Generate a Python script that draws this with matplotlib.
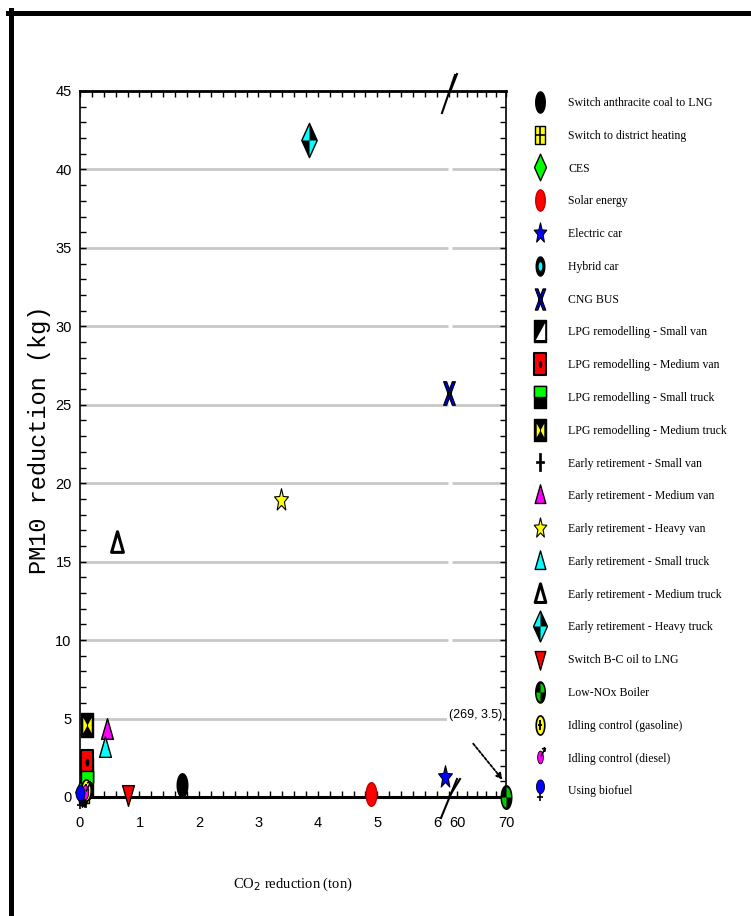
import numpy as np
import matplotlib
matplotlib.use('Agg')
import matplotlib.pyplot as plt
from matplotlib.path import Path
from matplotlib.lines import Line2D
from matplotlib.ticker import FixedLocator, FixedFormatter
from matplotlib.legend_handler import HandlerTuple

# ------------------------------------------------------------------ data
series_labels = [
    "Switch anthracite coal to LNG",
    "Switch to district heating",
    "CES",
    "Solar energy",
    "Electric car",
    "Hybrid car",
    "CNG BUS",
    "LPG remodelling - Small van",
    "LPG remodelling - Medium van",
    "LPG remodelling - Small truck",
    "LPG remodelling - Medium truck",
    "Early retirement - Small van",
    "Early retirement - Medium van",
    "Early retirement - Heavy van",
    "Early retirement - Small truck",
    "Early retirement - Medium truck",
    "Early retirement - Heavy truck",
    "Switch B-C oil to LNG",
    "Low-NOx Boiler",
    "Idling control (gasoline)",
    "Idling control (diesel)",
    "Using biofuel",
]
co2_reduction = [1.72, 0.06, 0.03, 4.90, 6.13, 0.05, 6.20, 0.12, 0.12, 0.12,
                 0.12, 0.08, 0.45, 3.38, 0.42, 0.62, 3.85, 0.81, 70.0, 0.10,
                 0.08, 0.00]
pm10_reduction = [0.77, 0.20, 0.30, 0.20, 1.30, 0.10, 25.75, 1.70, 2.20, 0.90,
                  4.60, 0.00, 4.30, 18.90, 3.10, 16.20, 41.90, 0.20, 0.00, 0.45,
                  0.30, 0.00]
x_major_ticks = [0, 1, 2, 3, 4, 5, 6, 60, 70]
x_tick_labels = ["0", "1", "2", "3", "4", "5", "6", "60", "70"]
y_major_ticks = [0, 5, 10, 15, 20, 25, 30, 35, 40, 45]
y_tick_labels = ["0", "5", "10", "15", "20", "25", "30", "35", "40", "45"]
y_grid_values = [5, 10, 15, 20, 25, 30, 35, 40]
annotation_text = "(269, 3.5)"
annotation_pos = (63.7, 5.23)
arrow_tail = (63.3, 3.4)
arrow_head = (69.3, 1.1)
x_label = "CO$_2$ reduction (ton)"
y_label = "PM10 reduction (kg)"

# ------------------------------------------------------------------ broken x scale
B1, B2, R = 6.24, 58.8, 4.9 / 59.5


def fwd(x):
    x = np.asarray(x, float)
    return np.where(x <= B1, x, np.where(x >= B2, B1 + (x - B2) * R, B1))


def inv(u):
    u = np.asarray(u, float)
    return np.where(u <= B1, u, B2 + (u - B1) / R)


# ------------------------------------------------------------------ marker shapes
def poly(pts):
    pts = [tuple(p) for p in pts]
    return Path(pts + [pts[0]], closed=True)


def compound(*paths):
    return Path.make_compound_path(*paths)


def segs(pairs):
    verts, codes = [], []
    for a, b in pairs:
        verts += [a, b]
        codes += [Path.MOVETO, Path.LINETO]
    return Path(verts, codes)


_t = np.linspace(0, 2 * np.pi, 33)[:-1]


def ellipse(cx=0.0, cy=0.0, rx=0.45, ry=1.0):
    return poly(zip(cx + rx * np.cos(_t), cy + ry * np.sin(_t)))


def wedge(a0, a1, rx=0.45):
    a = np.linspace(a0, a1, 9)
    return poly([(0, 0)] + list(zip(rx * np.cos(a), np.sin(a))))


def star(sx=0.62, inner=0.42):
    pts = []
    for k in range(10):
        ang = np.pi / 2 + k * np.pi / 5
        r = 1.0 if k % 2 == 0 else inner
        pts.append((sx * r * np.cos(ang), r * np.sin(ang)))
    return poly(pts)


ELL = ellipse()
RECT = poly([(-0.55, -1), (0.55, -1), (0.55, 1), (-0.55, 1)])
DIA = poly([(0, 1), (0.45, 0), (0, -1), (-0.45, 0)])
TRI_UP = poly([(0, 1), (0.5, -0.75), (-0.5, -0.75)])
TRI_DN = poly([(0, -1), (0.5, 0.75), (-0.5, 0.75)])
STAR = star()
XSHAPE = compound(poly([(-0.5, 1), (-0.24, 1), (0.5, -1), (0.24, -1)]),
                  poly([(0.24, 1), (0.5, 1), (-0.24, -1), (-0.5, -1)]))
PLUS = poly([(-0.12, 1), (0.12, 1), (0.12, 0.15), (0.45, 0.15), (0.45, -0.15),
             (0.12, -0.15), (0.12, -1), (-0.12, -1), (-0.12, -0.15),
             (-0.45, -0.15), (-0.45, 0.15), (-0.12, 0.15)])
GRID_LINES = segs([((0, -1), (0, 1)), ((-0.55, 0), (0.55, 0))])
LOW_RIGHT = poly([(0.55, -1), (0.55, 1), (-0.55, -1)])
TOP_HALF = poly([(-0.55, 0), (0.55, 0), (0.55, 1), (-0.55, 1)])
BOWTIE = compound(poly([(-0.55, 1), (0, 0), (-0.55, -1)]),
                  poly([(0.55, 1), (0, 0), (0.55, -1)]))
DIA_CYAN = compound(poly([(0, 1), (-0.45, 0), (0, 0)]),
                    poly([(0, -1), (0.45, 0), (0, 0)]))
NOX_GREEN = compound(wedge(0, np.pi / 2), wedge(np.pi, 1.5 * np.pi))
ARROW = segs([((0.05, 0.1), (0.5, 1.0)), ((0.5, 1.0), (0.15, 0.9)),
              ((0.5, 1.0), (0.45, 0.6))])
BIO_HEAD = ellipse(0, 0.35, 0.38, 0.65)
BIO_STEM = segs([((0, -0.3), (0, -1)), ((-0.25, -0.65), (0.25, -0.65))])

MS = 17
# label -> list of layers (path, face, edge, size factor, edge width)
marker_styles = {
    "Switch anthracite coal to LNG": [(ELL, "black", "black", 1.0, 1)],
    "Switch to district heating": [(RECT, "#ffff00", "black", 0.8, 1),
                                   (GRID_LINES, "none", "black", 0.8, 1.2)],
    "CES": [(DIA, "#00ff00", "black", 1.25, 1)],
    "Solar energy": [(ELL, "#ff0000", "#c00000", 1.0, 1)],
    "Electric car": [(STAR, "#0000ff", "black", 1.0, 0.8)],
    "Hybrid car": [(ELL, "black", "black", 0.9, 1),
                   (ellipse(), "#00ffff", "none", 0.4, 0)],
    "CNG BUS": [(XSHAPE, "#0000cc", "black", 1.0, 0.8)],
    "LPG remodelling - Small van": [(RECT, "black", "black", 1.0, 1),
                                    (LOW_RIGHT, "white", "none", 0.8, 0)],
    "LPG remodelling - Medium van": [(RECT, "#ff0000", "black", 1.0, 1.5),
                                     (ellipse(), "black", "none", 0.35, 0)],
    "LPG remodelling - Small truck": [(RECT, "black", "black", 1.0, 1),
                                      (TOP_HALF, "#00ff00", "black", 1.0, 1)],
    "LPG remodelling - Medium truck": [(RECT, "black", "black", 1.0, 1),
                                       (BOWTIE, "#ffff00", "none", 0.65, 0)],
    "Early retirement - Small van": [(PLUS, "black", "black", 0.85, 0.5)],
    "Early retirement - Medium van": [(TRI_UP, "#ff00ff", "black", 1.0, 1)],
    "Early retirement - Heavy van": [(STAR, "#ffff00", "black", 1.0, 0.8)],
    "Early retirement - Small truck": [(TRI_UP, "#00ffff", "black", 1.0, 1)],
    "Early retirement - Medium truck": [(TRI_UP, "white", "black", 1.0, 2.2)],
    "Early retirement - Heavy truck": [(DIA, "black", "black", 1.45, 1),
                                       (DIA_CYAN, "#00ffff", "none", 1.3, 0)],
    "Switch B-C oil to LNG": [(TRI_DN, "#ff0000", "black", 1.0, 1)],
    "Low-NOx Boiler": [(ELL, "black", "black", 1.0, 1),
                       (NOX_GREEN, "#00cc00", "none", 0.85, 0)],
    "Idling control (gasoline)": [(ELL, "#ffff00", "black", 0.9, 1.2),
                                  (PLUS, "black", "none", 0.5, 0)],
    "Idling control (diesel)": [(ellipse(0, 0, 0.45, 1), "#ff00ff", "black", 0.6, 0.6),
                                (ARROW, "none", "black", 0.9, 1.2)],
    "Using biofuel": [(BIO_HEAD, "#0000ff", "black", 1.0, 0.6),
                      (BIO_STEM, "none", "black", 1.0, 1.2)],
}

# ------------------------------------------------------------------ figure
W_PX, H_PX = 751, 916
fig = plt.figure(figsize=(W_PX / 100, H_PX / 100), dpi=100)
fig.patch.set_facecolor("white")

AX_L, AX_R, AX_T, AX_B = 80, 506, 91, 797
ax = fig.add_axes([AX_L / W_PX, 1 - AX_B / H_PX, (AX_R - AX_L) / W_PX,
                   (AX_B - AX_T) / H_PX])
ax.set_xscale("function", functions=(fwd, inv))
ax.set_xlim(0, 70)
ax.set_ylim(0, 45)

tick_font = "Liberation Sans"
ax.xaxis.set_major_locator(FixedLocator(x_major_ticks))
ax.xaxis.set_major_formatter(FixedFormatter(x_tick_labels))
ax.xaxis.set_minor_locator(FixedLocator(list(np.round(np.arange(0, 6.21, 0.2), 2))
                                        + [62, 64, 66, 68]))
ax.yaxis.set_major_locator(FixedLocator(y_major_ticks))
ax.yaxis.set_major_formatter(FixedFormatter(y_tick_labels))
ax.yaxis.set_minor_locator(FixedLocator(list(range(0, 46))))
ax.tick_params(which="both", direction="in", top=True, right=True,
               width=1.0, color="black")
ax.tick_params(which="major", length=4)
ax.tick_params(which="minor", length=4)
ax.tick_params(axis="x", which="major", pad=14, labelsize=10.5)
ax.tick_params(axis="y", which="major", pad=6, labelsize=10.5)
for lab in ax.get_xticklabels() + ax.get_yticklabels():
    lab.set_fontfamily(tick_font)

for side, lw in [("bottom", 2.2), ("top", 2.0), ("left", 1.2), ("right", 1.2)]:
    ax.spines[side].set_linewidth(lw)
    ax.spines[side].set_color("black")

# grid lines (split at the axis break)
ax.hlines(y_grid_values, 0, 6.19, colors="#c8c8c8", linewidth=2, zorder=1)
ax.hlines(y_grid_values, 59.0, 70, colors="#c8c8c8", linewidth=2, zorder=1)

# data markers
handles = []
for i, lab in enumerate(series_labels):
    hs = []
    for j, (path, fc, ec, sc, mew) in enumerate(marker_styles[lab]):
        h, = ax.plot([co2_reduction[i]], [pm10_reduction[i]], linestyle="none",
                     marker=path, markersize=MS * sc, markerfacecolor=fc,
                     markeredgecolor=ec, markeredgewidth=mew, clip_on=False,
                     zorder=5 + i * 0.1 + j * 0.01)
        hs.append(h)
    handles.append(tuple(hs))

# annotation
ax.text(annotation_pos[0], annotation_pos[1], annotation_text, ha="center",
        va="center", fontsize=9, family="Liberation Sans",
        bbox=dict(facecolor="white", edgecolor="none", pad=1.0), zorder=3)
ax.annotate("", xy=arrow_head, xytext=arrow_tail,
            arrowprops=dict(arrowstyle="-|>", lw=1.3, ls=(0, (1.5, 1.0)),
                            color="black", mutation_scale=9, shrinkA=0,
                            shrinkB=0), zorder=6)


# break marks
def pa(px, py):
    return ((px - AX_L) / (AX_R - AX_L), (AX_B - py) / (AX_B - AX_T))


for (p0, p1) in [((442, 113), (455, 75)), ((450, 92), (457, 74)),
                 ((441, 818), (457, 779)), ((449, 797), (460, 779))]:
    a0, a1 = pa(*p0), pa(*p1)
    ax.add_line(Line2D([a0[0], a1[0]], [a0[1], a1[1]], transform=ax.transAxes,
                       color="black", lw=1.5, clip_on=False, zorder=7))

# axis labels
ax.set_xlabel(x_label, family="Liberation Serif", fontsize=10.5)
ax.xaxis.set_label_coords(0.5, (AX_B - 884) / (AX_B - AX_T))
ax.xaxis.label.set_va("center")
ax.set_ylabel(y_label, family="Liberation Mono", fontsize=17)
ax.yaxis.set_label_coords((40 - AX_L) / (AX_R - AX_L), (AX_B - 440) / (AX_B - AX_T))
ax.yaxis.label.set_va("center")

# legend
fig.legend(handles, series_labels, loc="upper left",
           bbox_to_anchor=(533 / W_PX, 1 - 97 / H_PX), frameon=False,
           prop={"family": "Liberation Serif", "size": 8.5}, markerscale=0.9,
           numpoints=1, handlelength=1.2, handletextpad=1.8, labelspacing=1.76,
           borderpad=0, borderaxespad=0,
           handler_map={tuple: HandlerTuple(ndivide=1)})

# outer frame (left and top edges visible in the reference)
fig.add_artist(Line2D([10.5 / W_PX, 10.5 / W_PX], [0, 1 - 10 / H_PX],
                      transform=fig.transFigure, color="black", lw=3.6))
fig.add_artist(Line2D([8 / W_PX, 1], [1 - 12.5 / H_PX, 1 - 12.5 / H_PX],
                      transform=fig.transFigure, color="black", lw=3.6))

fig.savefig("out.png", dpi=100)
